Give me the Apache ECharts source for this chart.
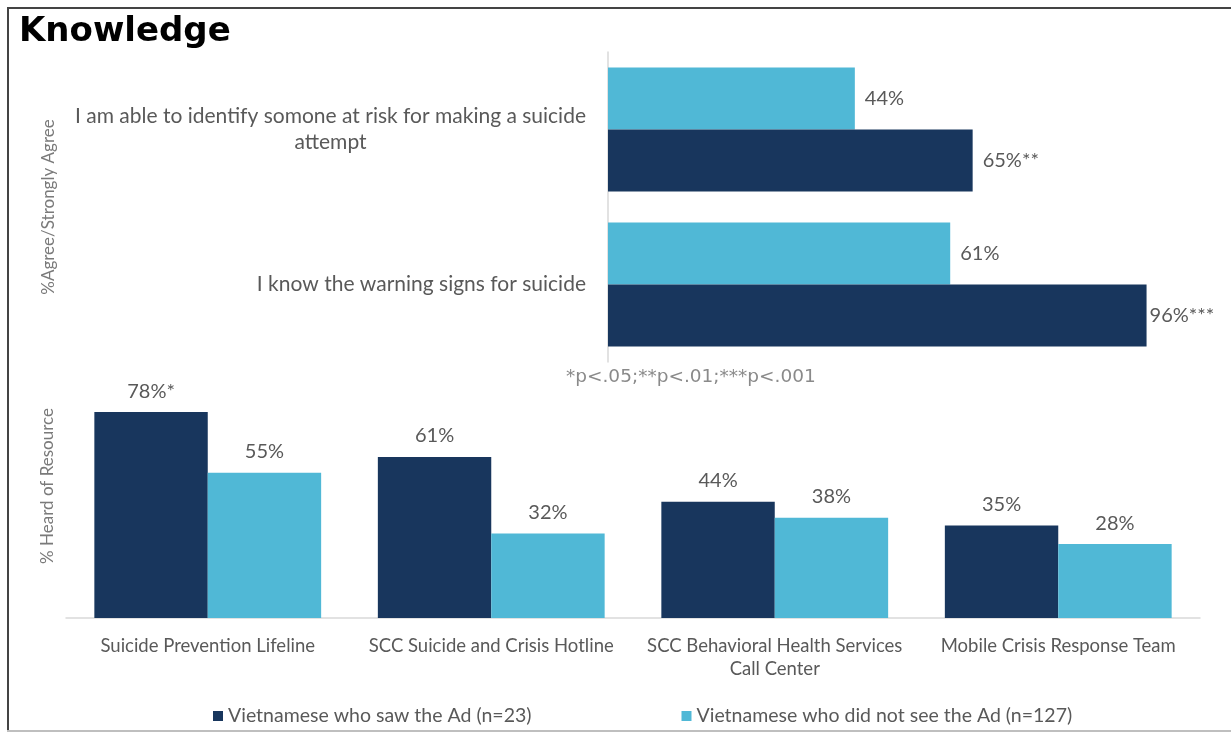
<!DOCTYPE html>
<html>
<head>
<meta charset="utf-8">
<title>Knowledge</title>
<script src="https://cdn.jsdelivr.net/npm/echarts@6/dist/echarts.min.js"></script>
<style>
  html, body { margin: 0; padding: 0; background: #ffffff; }
  #chart { width: 1231px; height: 732px; }
</style>
</head>
<body>
<div id="chart"></div>
<script>
// Series names
const seriesSaw = 'Vietnamese who saw the Ad (n=23)';
const seriesNotSaw = 'Vietnamese who did not see the Ad (n=127)';

// Knowledge statements (% agree / strongly agree)
const knowledgeCategories = [
  'I am able to identify somone at risk for making a suicide\nattempt',
  'I know the warning signs for suicide'
];
const knowledgeSaw = [65, 96];
const knowledgeNotSaw = [44, 61];
const knowledgeSawSig = ['**', '***'];

// Resource awareness (% heard of resource)
const resourceCategories = [
  'Suicide Prevention Lifeline',
  'SCC Suicide and Crisis Hotline',
  'SCC Behavioral Health Services\nCall Center',
  'Mobile Crisis Response Team'
];
const resourceSaw = [78, 61, 44, 35];
const resourceNotSaw = [55, 32, 38, 28];
const resourceSawSig = ['*', '', '', ''];

const footnote = '*p<.05;**p<.01;***p<.001';

const DARK = '#18365d';
const LIGHT = '#50b8d6';
const TEXT = '#595959';
const FONT = 'Lato';

const chart = echarts.init(document.getElementById('chart'), null, { renderer: 'canvas' });

function pct(sig) {
  return function (p) { return p.value + '%' + (sig ? sig[p.dataIndex] : ''); };
}

const labelStyle = { color: TEXT, fontFamily: FONT, fontSize: 20 };

// long bars near the right edge get their label pulled in closer
function hbarData(values) {
  return values.map(function (v) {
    return v > 90 ? { value: v, label: { distance: 3 } } : v;
  });
}

chart.setOption({
  backgroundColor: '#ffffff',
  animation: false,
  legend: {
    data: [seriesSaw, seriesNotSaw],
    left: 208,
    top: 701,
    itemWidth: 10,
    itemHeight: 10,
    itemGap: 150,
    icon: 'rect',
    textStyle: { color: TEXT, fontFamily: FONT, fontSize: 19.5 }
  },
  grid: [
    { left: 608, top: 52, width: 561, height: 310 },
    { left: 66, top: 354, width: 1134, height: 264 }
  ],
  xAxis: [
    {
      gridIndex: 0, type: 'value', min: 0, max: 100,
      show: false
    },
    {
      gridIndex: 1, type: 'category', data: resourceCategories,
      axisLine: { show: true, lineStyle: { color: '#d9d9d9', width: 1.5 } },
      axisTick: { show: false },
      axisLabel: { color: TEXT, fontFamily: FONT, fontSize: 18.5, margin: 17, lineHeight: 23, interval: 0 }
    }
  ],
  yAxis: [
    {
      gridIndex: 0, type: 'category', data: knowledgeCategories, inverse: true,
      axisLine: { show: true, lineStyle: { color: '#d9d9d9', width: 1.5 } },
      axisTick: { show: false },
      axisLabel: {
        margin: 22,
        lineHeight: 26,
        formatter: function (v) {
          return v.split('\n').map(function (l) { return '{c|' + l + '}'; }).join('\n');
        },
        rich: { c: { align: 'center', color: TEXT, fontFamily: FONT, fontSize: 21, lineHeight: 26 } }
      },
      name: '%Agree/Strongly Agree',
      nameLocation: 'middle',
      nameRotate: 90,
      nameGap: 551,
      nameTextStyle: { color: '#7a7a7a', fontFamily: FONT, fontSize: 17 }
    },
    {
      gridIndex: 1, type: 'value', min: 0, max: 100,
      axisLine: { show: false }, axisTick: { show: false },
      axisLabel: { show: false }, splitLine: { show: false },
      name: '% Heard of Resource',
      nameLocation: 'middle',
      nameRotate: 90,
      nameGap: 10,
      nameTextStyle: { color: '#7a7a7a', fontFamily: FONT, fontSize: 17 }
    }
  ],
  series: [
    {
      name: seriesNotSaw, type: 'bar', xAxisIndex: 0, yAxisIndex: 0,
      data: hbarData(knowledgeNotSaw), itemStyle: { color: LIGHT },
      barCategoryGap: '20%', barGap: '0%',
      label: Object.assign({ show: true, position: 'right', distance: 10, formatter: pct(null) }, labelStyle)
    },
    {
      name: seriesSaw, type: 'bar', xAxisIndex: 0, yAxisIndex: 0,
      data: hbarData(knowledgeSaw), itemStyle: { color: DARK },
      barCategoryGap: '20%', barGap: '0%',
      label: Object.assign({ show: true, position: 'right', distance: 10, formatter: pct(knowledgeSawSig) }, labelStyle)
    },
    {
      name: seriesSaw, type: 'bar', xAxisIndex: 1, yAxisIndex: 1,
      data: resourceSaw, itemStyle: { color: DARK },
      barCategoryGap: '20%', barGap: '0%',
      label: Object.assign({ show: true, position: 'top', distance: 11, formatter: pct(resourceSawSig) }, labelStyle)
    },
    {
      name: seriesNotSaw, type: 'bar', xAxisIndex: 1, yAxisIndex: 1,
      data: resourceNotSaw, itemStyle: { color: LIGHT },
      barCategoryGap: '20%', barGap: '0%',
      label: Object.assign({ show: true, position: 'top', distance: 11, formatter: pct(null) }, labelStyle)
    }
  ],
  graphic: [
    // frame
    { type: 'line', shape: { x1: 7, y1: 8, x2: 1231, y2: 8 }, style: { stroke: '#444444', lineWidth: 2 }, silent: true },
    { type: 'line', shape: { x1: 8, y1: 7, x2: 8, y2: 732 }, style: { stroke: '#444444', lineWidth: 2 }, silent: true },
    { type: 'line', shape: { x1: 7, y1: 731, x2: 1231, y2: 731 }, style: { stroke: '#bfbfbf', lineWidth: 2 }, silent: true },
    {
      type: 'text', left: 19, top: 15,
      style: { text: 'Knowledge', fill: '#000000', font: 'bold 34px "DejaVu Sans"' }
    },
    {
      type: 'text', left: 566, top: 368,
      style: { text: footnote, fill: '#8a8a8a', font: '18.5px "DejaVu Sans"' }
    }
  ]
});
</script>
</body>
</html>
